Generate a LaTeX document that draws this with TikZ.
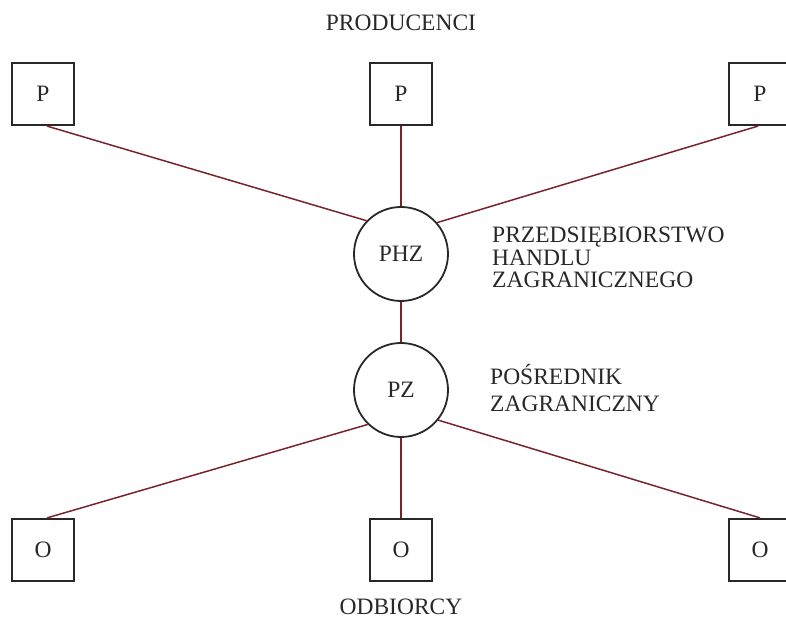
\documentclass[tikz,border=0pt]{standalone}
\usepackage{fontspec}
\setmainfont{Liberation Serif}
\definecolor{linkred}{RGB}{120,36,44}
\definecolor{ink}{RGB}{40,40,40}
\begin{document}
\begin{tikzpicture}[x=1pt,y=1pt,
  txt/.style={font=\fontsize{23.5}{23.5}\selectfont, text=ink},
  box/.style={txt, draw=ink, line width=2.2pt, minimum width=62pt, minimum height=62pt, inner sep=0pt},
  hub/.style={txt, circle, draw=ink, line width=1.8pt, minimum size=94pt, inner sep=0pt},
  link/.style={draw=linkred, line width=1.5pt},
  lbl/.style={txt, anchor=base west, inner sep=0pt}]
\useasboundingbox (0,0) rectangle (786,636);

\node[txt] (prod) at (401,613) {PRODUCENCI};
\node[txt] (odb) at (401,29) {ODBIORCY};

\node[box] (P1) at (43,542) {P};
\node[box] (P2) at (401,542) {P};
\node[box] (P3) at (760,542) {P};

\node[hub] (PHZ) at (401,382) {PHZ};
\node[hub] (PZ) at (401,246) {PZ};

\node[box] (O1) at (43,86) {O};
\node[box] (O2) at (401,86) {O};
\node[box] (O3) at (760,86) {O};

\node[lbl] (l1) at (492,393) {PRZEDSIĘBIORSTWO};
\node[lbl] (l2) at (492,370) {HANDLU};
\node[lbl] (l3) at (492,348) {ZAGRANICZNEGO};
\node[lbl] (l4) at (490,251) {POŚREDNIK};
\node[lbl] (l5) at (490,224) {ZAGRANICZNY};

\draw[link] ([xshift=4pt]P1.south) -- (PHZ.136);
\draw[link] (P2.south) -- (PHZ.north);
\draw[link] ([xshift=-2pt]P3.south) -- (PHZ.41);
\draw[link] (PHZ.south) -- (PZ.north);
\draw[link] (PZ.226) -- ([xshift=4pt]O1.north);
\draw[link] (PZ.south) -- (O2.north);
\draw[link] (PZ.321) -- (O3.north);
\end{tikzpicture}
\end{document}
